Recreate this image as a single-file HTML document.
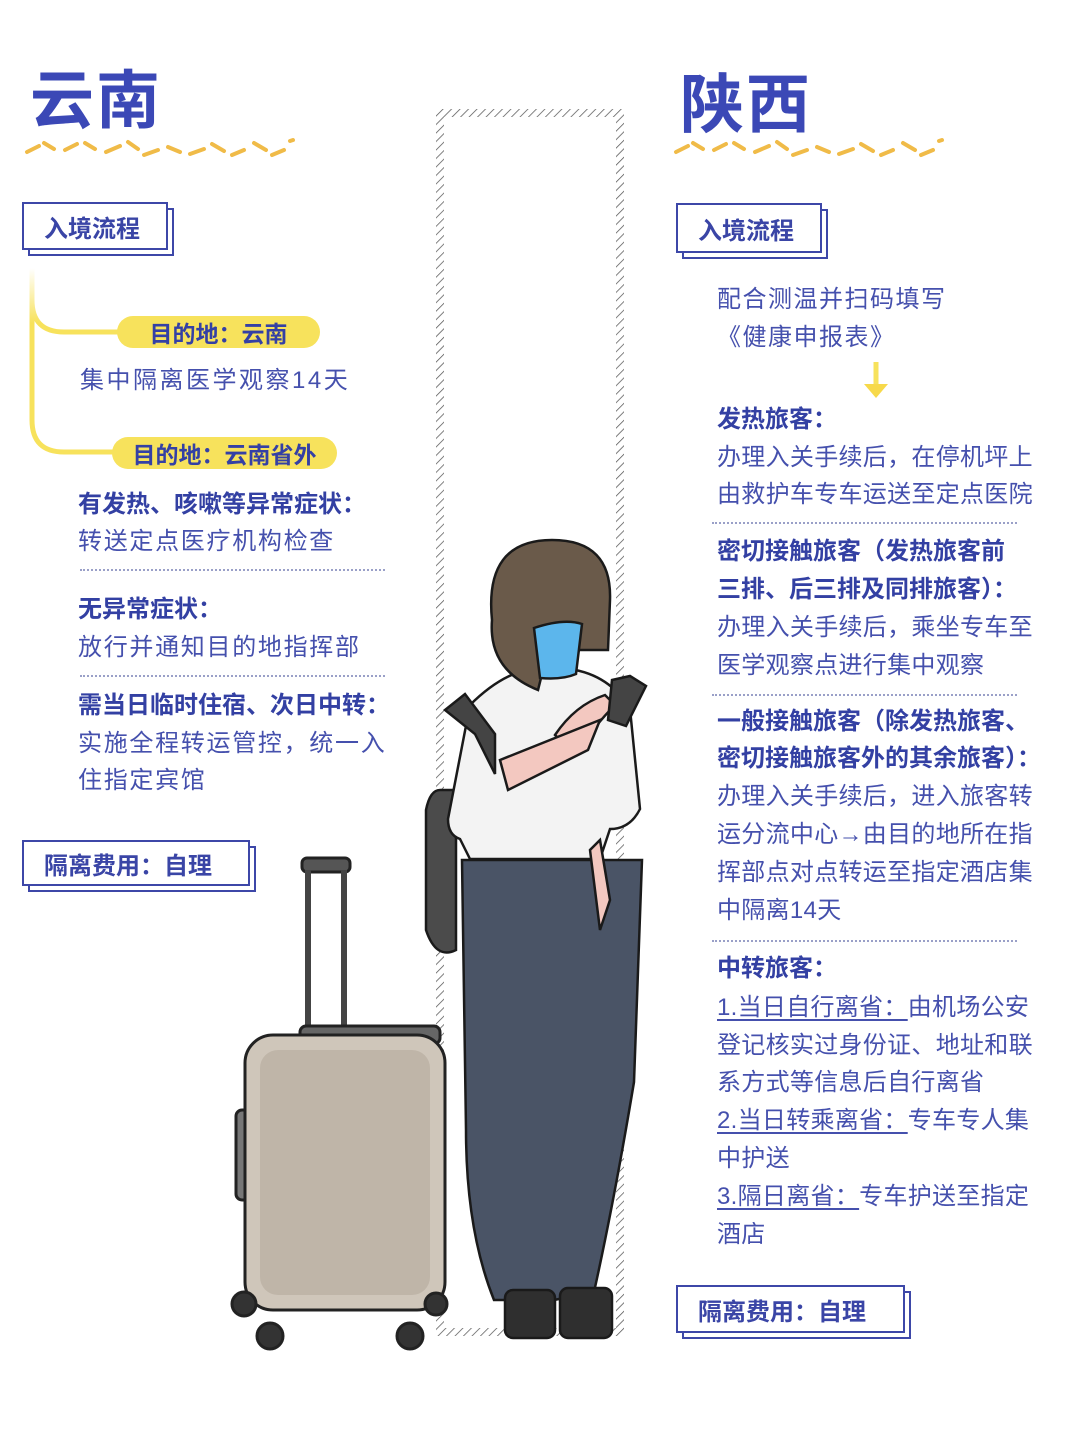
<!DOCTYPE html>
<html><head><meta charset="utf-8"><style>
body{margin:0;background:#fff}
#p{position:relative;width:1080px;height:1429px;overflow:hidden;background:#fff;font-family:"Liberation Sans","Noto Sans CJK SC",sans-serif;color:#4550ad}
.t{position:absolute;font-size:24px;line-height:30px;white-space:nowrap;letter-spacing:1.7px}
.r{letter-spacing:0.3px}
.b{font-weight:bold;color:#3340a3;letter-spacing:0}
.u{text-decoration:underline;text-underline-offset:4px;text-decoration-thickness:1.5px}
.dot{position:absolute;height:0;border-top:2px dotted #9aa0c8}
.box{position:absolute;border:2.5px solid #3d47a8;background:#fff;font-weight:bold;font-size:24px;color:#3a45a6;box-sizing:border-box;padding-left:20px;display:flex;align-items:center}
.sh{position:absolute;border:2.5px solid #3d47a8;box-sizing:border-box}
.pill{position:absolute;background:#f7e25c;border-radius:17px;font-weight:bold;font-size:23px;color:#3440a5;display:flex;align-items:center;justify-content:center}
.title{position:absolute;font-size:64px;font-weight:bold;color:#3b48b6;letter-spacing:2px;line-height:70px}
</style></head><body><div id="p">

<div class="title" style="left:30px;top:66px">云南</div>
<div class="title" style="left:680px;top:70px">陕西</div>
<svg style="position:absolute;left:0;top:0" width="1080" height="1429">
 <defs>
  <pattern id="h" width="6" height="6" patternUnits="userSpaceOnUse" patternTransform="rotate(45)"><line x1="0" y1="0" x2="0" y2="6" stroke="#555" stroke-width="1.5"/></pattern>
  <linearGradient id="yl" x1="0" y1="0" x2="0" y2="1"><stop offset="0" stop-color="#fff"/><stop offset="0.3" stop-color="#f7e25c"/></linearGradient>
 </defs>
 <g stroke="#f0bb48" stroke-width="4" stroke-linecap="round" fill="none">
  <path d="M27 152l12-6M44 143l10 6M65 150l12-6M85 143l10 6M106 152l14-6M128 142l10 7M144 155l14-5M168 147l12 5M190 154l14-5M212 144l12 7M232 155l12-5M254 143l12 7M272 155l12-5M290 141l3-1"/>
  <path d="M676 152l12-6M693 143l10 6M714 150l12-6M734 143l10 6M755 152l14-6M777 142l10 7M793 155l14-5M817 147l12 5M839 154l14-5M861 144l12 7M881 155l12-5M903 143l12 7M921 155l12-5M939 141l3-1"/>
 </g>
 <path fill-rule="evenodd" fill="url(#h)" d="M436 109h188v1227h-188zM444 117v1211h172v-1211z"/>
 <path d="M32 268V300Q32 332 64 332H118M32 300V420Q32 452 64 452H114" stroke="url(#yl)" stroke-width="5" fill="none"/>
 <path d="M876 362v24" stroke="#f7e25c" stroke-width="5"/><path d="M864 384h24l-12 14z" fill="#f7d94a"/>

 <g stroke="#222" stroke-width="3">
  <rect x="302" y="858" width="48" height="14" rx="5" fill="#555"/>
  <path d="M308 870v170M344 870v170" stroke-width="6" stroke="#444"/>
  <rect x="300" y="1026" width="140" height="18" rx="6" fill="#666"/>
  <rect x="236" y="1110" width="16" height="90" rx="6" fill="#777"/>
  <rect x="245" y="1035" width="200" height="275" rx="28" fill="#cfc6ba"/>
  <rect x="260" y="1050" width="170" height="245" rx="18" fill="#bfb5a8" stroke="none"/>
  <circle cx="244" cy="1304" r="12" fill="#333"/><circle cx="270" cy="1336" r="13" fill="#333"/>
  <circle cx="410" cy="1336" r="13" fill="#333"/><circle cx="436" cy="1304" r="11" fill="#333"/>
 </g>
 <g stroke="#1a1a1a" stroke-width="2.5">
  <path d="M440 790q-10 0-14 20v120q10 30 30 20v-160z" fill="#4b4b4b"/>
  <path d="M462 860l4 270q0 100 28 170l60 0 40-8q20-90 40-210l8-222z" fill="#4a5466"/>
  <rect x="505" y="1290" width="50" height="48" rx="8" fill="#2f2f2f"/>
  <rect x="560" y="1288" width="52" height="50" rx="8" fill="#2f2f2f"/>
  <path d="M470 705q30-30 60-36h40q40 6 60 40l10 100q-10 20-30 20l-10 30h-130l-10-20q-12-4-12-20z" fill="#f3f3f3"/>
  <path d="M445 710l20-16 30 40v40l-20-40z" fill="#444"/>
  <path d="M540 640h30v30h-30z" fill="#f3c8c0"/>
  <path d="M492 620q-8-80 60-80q60 0 58 60l-2 50h-60l-10 40q-50-20-46-70z" fill="#6a5a4a"/>
  <path d="M534 628q30-10 48-4l-6 50q-14 6-36 4z" fill="#5cb6ec"/>
  <path d="M555 735q20-30 50-40l10 10q-20 20-40 50z" fill="#f3c8c0"/>
  <path d="M612 680l18-4 16 10-20 40-18-6z" fill="#444"/>
  <path d="M500 760l100-40-12 30-80 40z" fill="#f3c8c0"/>
  <path d="M600 840l10 60-10 30-10-80z" fill="#f3c8c0"/>
 </g>
</svg>

<div class="sh" style="left:28px;top:208px;width:146px;height:48px"></div>
<div class="box" style="left:22px;top:202px;width:146px;height:48px">入境流程</div>
<div class="pill" style="left:117px;top:316px;width:203px;height:32px">目的地：云南</div>
<div class="t" style="left:80px;top:366px;letter-spacing:2.5px">集中隔离医学观察14天</div>
<div class="pill" style="left:112px;top:437px;width:225px;height:32px">目的地：云南省外</div>
<div class="t b" style="left:78px;top:490px">有发热、咳嗽等异常症状：</div>
<div class="t" style="left:78px;top:527px">转送定点医疗机构检查</div>
<div class="dot" style="left:80px;top:569px;width:305px"></div>
<div class="t b" style="left:78px;top:595px">无异常症状：</div>
<div class="t" style="left:78px;top:633px">放行并通知目的地指挥部</div>
<div class="dot" style="left:80px;top:675px;width:305px"></div>
<div class="t b" style="left:78px;top:691px">需当日临时住宿、次日中转：</div>
<div class="t" style="left:78px;top:729px">实施全程转运管控，统一入</div>
<div class="t" style="left:78px;top:766px">住指定宾馆</div>
<div class="sh" style="left:28px;top:846px;width:228px;height:46px"></div>
<div class="box" style="left:22px;top:840px;width:228px;height:46px">隔离费用：自理</div>

<div class="sh" style="left:682px;top:209px;width:146px;height:50px"></div>
<div class="box" style="left:676px;top:203px;width:146px;height:50px">入境流程</div>
<div class="t r" style="left:717px;top:285px;letter-spacing:1.5px">配合测温并扫码填写</div>
<div class="t r" style="left:717px;top:323px;letter-spacing:1.5px">《健康申报表》</div>
<div class="t b" style="left:717px;top:405px">发热旅客：</div>
<div class="t r" style="left:717px;top:443px">办理入关手续后，在停机坪上</div>
<div class="t r" style="left:717px;top:480px">由救护车专车运送至定点医院</div>
<div class="dot" style="left:712px;top:522px;width:305px"></div>
<div class="t b" style="left:717px;top:537px">密切接触旅客（发热旅客前</div>
<div class="t b" style="left:717px;top:575px">三排、后三排及同排旅客）：</div>
<div class="t r" style="left:717px;top:613px">办理入关手续后，乘坐专车至</div>
<div class="t r" style="left:717px;top:651px">医学观察点进行集中观察</div>
<div class="dot" style="left:712px;top:694px;width:305px"></div>
<div class="t b" style="left:717px;top:707px">一般接触旅客（除发热旅客、</div>
<div class="t b" style="left:717px;top:744px">密切接触旅客外的其余旅客）：</div>
<div class="t r" style="left:717px;top:782px">办理入关手续后，进入旅客转</div>
<div class="t r" style="left:717px;top:820px">运分流中心→由目的地所在指</div>
<div class="t r" style="left:717px;top:858px">挥部点对点转运至指定酒店集</div>
<div class="t r" style="left:717px;top:896px">中隔离14天</div>
<div class="dot" style="left:712px;top:940px;width:305px"></div>
<div class="t b" style="left:717px;top:954px">中转旅客：</div>
<div class="t r" style="left:717px;top:993px"><span class="u">1.当日自行离省：</span>由机场公安</div>
<div class="t r" style="left:717px;top:1031px">登记核实过身份证、地址和联</div>
<div class="t r" style="left:717px;top:1068px">系方式等信息后自行离省</div>
<div class="t r" style="left:717px;top:1106px"><span class="u">2.当日转乘离省：</span>专车专人集</div>
<div class="t r" style="left:717px;top:1144px">中护送</div>
<div class="t r" style="left:717px;top:1182px"><span class="u">3.隔日离省：</span>专车护送至指定</div>
<div class="t r" style="left:717px;top:1220px">酒店</div>
<div class="sh" style="left:682px;top:1291px;width:229px;height:48px"></div>
<div class="box" style="left:676px;top:1285px;width:229px;height:48px">隔离费用：自理</div>
</div></body></html>
